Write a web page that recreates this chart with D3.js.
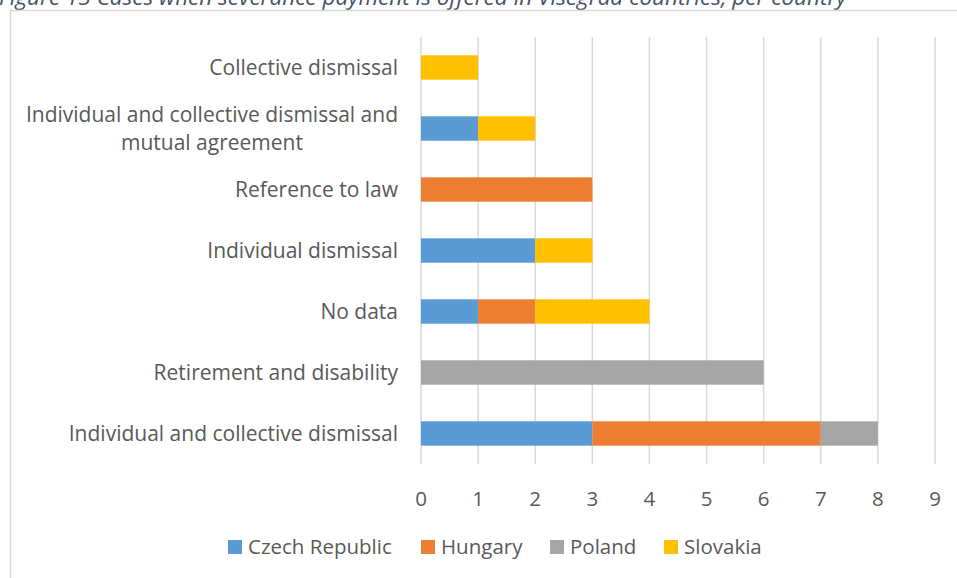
<!DOCTYPE html>
<html>
<head>
<meta charset="utf-8">
<script src="https://cdn.jsdelivr.net/npm/d3@7"></script>
<style>
  body { margin: 0; background: #fff; }
  svg { display: block; font-family: "Open Sans", sans-serif; }
</style>
</head>
<body>
<script>
var categories = [
  'Collective dismissal',
  'Individual and collective dismissal and|mutual agreement',
  'Reference to law',
  'Individual dismissal',
  'No data',
  'Retirement and disability',
  'Individual and collective dismissal'
];
var seriesNames = ['Czech Republic', 'Hungary', 'Poland', 'Slovakia'];
var czech    = [0, 1, 0, 2, 1, 0, 3];
var hungary  = [0, 0, 3, 0, 1, 0, 4];
var poland   = [0, 0, 0, 0, 0, 6, 1];
var slovakia = [1, 1, 0, 1, 2, 0, 0];
var xTicks = [0, 1, 2, 3, 4, 5, 6, 7, 8, 9];
var colors = ['#5B9BD5', '#ED7D31', '#A5A5A5', '#FFC000'];

var width = 957, height = 578,
    plot = {left: 421, right: 935, top: 37, bottom: 464},
    fontSize = '20.5px';

var rows = categories.map((c, i) => ({
  cat: c,
  'Czech Republic': czech[i],
  'Hungary': hungary[i],
  'Poland': poland[i],
  'Slovakia': slovakia[i]
}));
var stacked = d3.stack().keys(seriesNames)(rows);

var x = d3.scaleLinear().domain([0, 9]).range([plot.left, plot.right]);
var y = d3.scaleBand().domain(categories).range([plot.top, plot.bottom]).paddingInner(0.6).paddingOuter(0.3);

var svg = d3.select('body').append('svg')
    .attr('width', width)
    .attr('height', height);

// title, cut off at the top (as in the original)
svg.append('text')
    .attr('x', -1)
    .attr('y', 5)
    .attr('fill', '#44546A')
    .style('font-style', 'italic')
    .style('font-size', '22.5px')
    .text('Figure 13 Cases when severance payment is offered in Visegrad countries, per country');

// chart border
svg.append('rect')
    .attr('x', 10.5).attr('y', 10.5)
    .attr('width', 1000).attr('height', 1000)
    .attr('fill', 'none')
    .attr('stroke', '#D9D9D9')
    .attr('stroke-width', 1.5);

// gridlines
svg.append('g')
    .attr('class', 'grid')
    .selectAll('line')
    .data(xTicks)
    .enter()
    .append('line')
    .attr('x1', d => x(d)).attr('x2', d => x(d))
    .attr('y1', plot.top).attr('y2', plot.bottom)
    .attr('stroke', '#D9D9D9')
    .attr('stroke-width', 1.5);

// bars
svg.append('g')
    .selectAll('g')
    .data(stacked)
    .enter()
    .append('g')
    .attr('fill', (d, i) => colors[i])
    .selectAll('rect')
    .data(d => d)
    .enter()
    .append('rect')
    .attr('x', d => x(d[0]))
    .attr('width', d => x(d[1]) - x(d[0]))
    .attr('y', d => y(d.data.cat))
    .attr('height', y.bandwidth());

// x tick labels
svg.append('g')
    .selectAll('text')
    .data(xTicks)
    .enter()
    .append('text')
    .attr('x', d => x(d))
    .attr('y', 506)
    .attr('text-anchor', 'middle')
    .attr('fill', '#595959')
    .style('font-size', fontSize)
    .text(d => d);

// category labels (wrapped lines centred, block right-aligned)
var catLabels = svg.append('g')
    .selectAll('text')
    .data(categories)
    .enter()
    .append('text')
    .attr('text-anchor', 'middle')
    .attr('fill', '#595959')
    .style('font-size', '21px');

catLabels.each(function(d) {
  var lines = d.split('|');
  var t = d3.select(this);
  var spans = lines.map((l, i) => t.append('tspan')
      .attr('x', 0)
      .attr('y', (i - (lines.length - 1) / 2) * 28 + 7)
      .text(l));
  var w = d3.max(spans, s => s.node().getComputedTextLength());
  t.attr('transform', 'translate(' + (398 - w / 2) + ',' + (y(d) + y.bandwidth() / 2) + ')');
});

// legend
var legendX = [228, 421, 550, 664];
var legend = svg.append('g')
    .selectAll('g')
    .data(seriesNames)
    .enter()
    .append('g')
    .attr('transform', (d, i) => 'translate(' + legendX[i] + ',547)');

legend.append('rect')
    .attr('x', 0).attr('y', -7)
    .attr('width', 14).attr('height', 14)
    .attr('fill', (d, i) => colors[i]);

legend.append('text')
    .attr('x', 20)
    .attr('y', 7)
    .attr('fill', '#595959')
    .style('font-size', fontSize)
    .text(d => d);
</script>
</body>
</html>
